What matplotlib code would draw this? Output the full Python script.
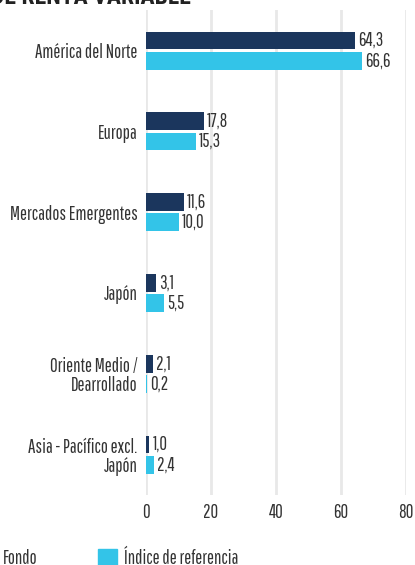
import numpy as np
import matplotlib
matplotlib.use("Agg")
from matplotlib import pyplot as plt
from matplotlib.patches import Patch

regiones = ["América del Norte", "Europa", "Mercados Emergentes", "Japón",
            "Oriente Medio /\nDearrollado", "Asia - Pacífico excl.\nJapón"]
fondo = [64.3, 17.8, 11.6, 3.1, 2.1, 1.0]
indice = [66.6, 15.3, 10.0, 5.5, 0.2, 2.4]
xticks = [0, 20, 40, 60, 80]

navy = "#1b365d"
cyan = "#33c4e8"
txt = "#333333"

plt.rcParams["font.family"] = ["Pathway Gothic One", "DejaVu Sans"]
plt.rcParams["font.size"] = 13.5

fig = plt.figure(figsize=(4.15, 5.65), dpi=100)
ax = fig.add_axes([0.352, 0.124, 0.626, 0.858])

y = np.arange(len(regiones))
h = 0.22
off = 0.125
b1 = ax.barh(y - off, fondo, height=h, color=navy)
b2 = ax.barh(y + off, indice, height=h, color=cyan)

for bars, vals in ((b1, fondo), (b2, indice)):
    for r, v in zip(bars, vals):
        ax.text(r.get_width() + 1.0, r.get_y() + r.get_height() / 2,
                f"{v:.1f}".replace(".", ","), va="center", ha="left",
                color=txt)

ax.set_xlim(0, 80)
ax.set_ylim(len(regiones) - 0.5, -0.5)
ax.set_xticks(xticks)
ax.set_yticks(y)
ax.set_yticklabels(regiones, color=txt, ha="right", linespacing=1.0)
ax.tick_params(axis="both", length=0, labelcolor=txt)
ax.tick_params(axis="x", pad=6)
ax.tick_params(axis="y", pad=6)
ax.grid(axis="x", color="#e8e8e8", linewidth=2)
ax.set_axisbelow(True)
for s in ax.spines.values():
    s.set_visible(False)

fig.text(0.46, 0.993, "DE RENTA VARIABLE", ha="right", va="baseline",
         fontsize=17, fontweight="bold", color="#222222",
         family=["Roboto Condensed", "DejaVu Sans"])

handles = [Patch(color=navy, label="Fondo"), Patch(color=cyan, label="Índice de referencia")]
fig.legend(handles=handles, ncol=2, loc="center left",
           bbox_to_anchor=(-0.096, 0.012), frameon=False,
           handlelength=1.0, handleheight=1.0, handletextpad=0.4,
           columnspacing=3.2, labelcolor=txt)

fig.savefig("out.png", dpi=100)
